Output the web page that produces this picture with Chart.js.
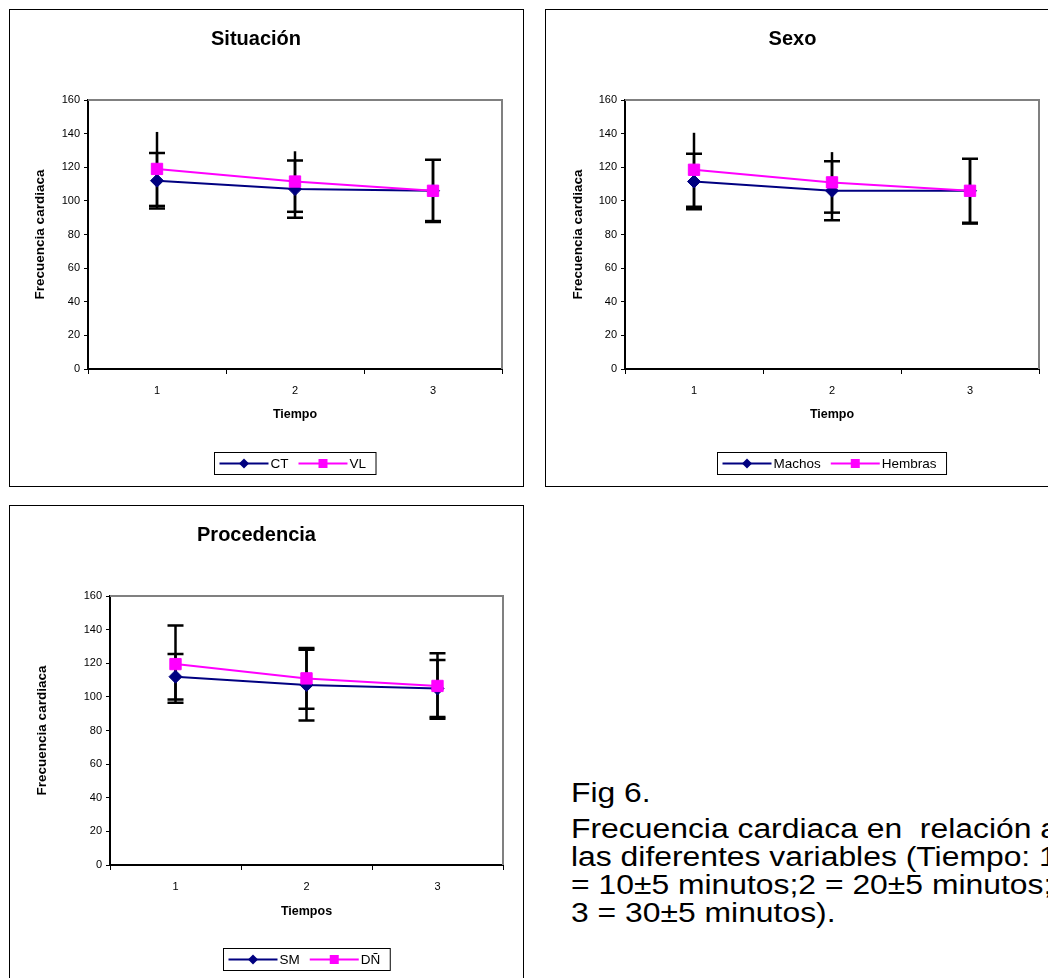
<!DOCTYPE html>
<html>
<head>
<meta charset="utf-8">
<script src="https://cdn.jsdelivr.net/npm/chart.js@4.4.0/dist/chart.umd.min.js"></script>
<style>
  html, body { margin: 0; padding: 0; background: #fff; width: 1048px; height: 978px; overflow: hidden; position: relative; }
  .panel { position: absolute; border: 1px solid #000; background: #fff; box-sizing: border-box; overflow: hidden; }
  .panel canvas { display: block; }
  .cap { position: absolute; left: 571px; font-family: "Liberation Sans", Arial, sans-serif; font-size: 27px; line-height: 30px; color: #000; white-space: pre; transform: scaleX(1.18); transform-origin: 0 0; }
</style>
</head>
<body>
<div class="panel" style="left:9px;top:9px;width:515px;height:478px"><canvas id="cSituacion" width="513" height="476"></canvas></div>
<div class="panel" style="left:545px;top:9px;width:542px;height:478px"><canvas id="cSexo" width="540" height="476"></canvas></div>
<div class="panel" style="left:9px;top:505px;width:515px;height:480px"><canvas id="cProcedencia" width="513" height="478"></canvas></div>

<div class="cap" style="top:778px">Fig 6.</div>
<div class="cap" style="top:814px">Frecuencia cardiaca en  relación a</div>
<div class="cap" style="top:842px">las diferentes variables (Tiempo: 1</div>
<div class="cap" style="top:870px">= 10±5 minutos;2 = 20±5 minutos;</div>
<div class="cap" style="top:898px">3 = 30±5 minutos).</div>

<script>
// Time points (categories)
const tiempos = ['1', '2', '3'];

// Situación: mean heart rate and standard deviation
const ctMedia = [112, 107, 106];
const ctDE = [16.5, 17, 18.5];
const vlMedia = [119, 111.5, 106];
const vlDE = [22, 18, 18];

// Sexo
const machosMedia = [111.5, 106, 106];
const machosDE = [16.5, 17.5, 19];
const hembrasMedia = [118.5, 111, 106];
const hembrasDE = [22, 18, 19.5];

// Procedencia
const smMedia = [112, 107, 105];
const smDE = [13.5, 21, 17];
const dnMedia = [119.5, 111, 106.5];
const dnDE = [23, 18, 19.5];

Chart.defaults.font.family = "'Liberation Sans', Arial, Helvetica, sans-serif";
Chart.defaults.color = '#000';

const NAVY = '#000080';
const MAGENTA = '#FF00FF';

// Vertical ±SD whiskers with caps, drawn under the series
const errorBars = {
  id: 'errorBars',
  beforeDatasetsDraw(chart) {
    const { ctx } = chart;
    const y = chart.scales.y;
    ctx.save();
    ctx.strokeStyle = '#000';
    chart.data.datasets.forEach((ds, i) => {
      const meta = chart.getDatasetMeta(i);
      meta.data.forEach((pt, j) => {
        const v = ds.data[j], e = ds.sd[j];
        const x = pt.x;
        const yHi = y.getPixelForValue(v + e);
        const yLo = y.getPixelForValue(v - e);
        ctx.lineWidth = 2.5;
        ctx.beginPath();
        ctx.moveTo(x, yHi); ctx.lineTo(x, yLo);
        ctx.stroke();
        ctx.beginPath();
        if (ds.capTop !== false) { ctx.moveTo(x - 8, yHi); ctx.lineTo(x + 8, yHi); }
        ctx.moveTo(x - 8, yLo); ctx.lineTo(x + 8, yLo);
        ctx.stroke();
      });
    });
    ctx.restore();
  }
};

// Grey top/right edges of the plot area
const plotFrame = {
  id: 'plotFrame',
  beforeDatasetsDraw(chart) {
    const { ctx, chartArea: a } = chart;
    ctx.save();
    ctx.strokeStyle = '#808080';
    ctx.lineWidth = 2;
    ctx.beginPath();
    ctx.moveTo(a.left, a.top);
    ctx.lineTo(a.right, a.top);
    ctx.lineTo(a.right, a.bottom);
    ctx.stroke();
    ctx.restore();
  }
};

// Boxed legend below the axis: line + marker + label for each series
const boxLegend = {
  id: 'boxLegend',
  afterDraw(chart) {
    const { ctx, chartArea: a } = chart;
    ctx.save();
    ctx.font = "13.5px 'Liberation Sans', Arial, sans-serif";
    const lineLen = 49, padL = 5, gapText = 2, gapItem = 10, padR = 10, h = 22;
    const items = chart.data.datasets.map(ds => ({ ds, w: ctx.measureText(ds.label).width }));
    let total = padL;
    items.forEach((it, k) => { total += lineLen + gapText + it.w + (k < items.length - 1 ? gapItem : padR); });
    const cx = (a.left + a.right) / 2;
    const left = Math.round(cx - total / 2) + 0.5;
    const top = Math.round(a.bottom + 83) + 0.5;
    ctx.fillStyle = '#fff';
    ctx.fillRect(left, top, total, h);
    ctx.strokeStyle = '#000';
    ctx.lineWidth = 1;
    ctx.strokeRect(left, top, total, h);
    const yMid = top + h / 2;
    let x = left + padL;
    items.forEach(({ ds, w }) => {
      ctx.strokeStyle = ds.borderColor;
      ctx.lineWidth = 2;
      ctx.beginPath();
      ctx.moveTo(x, yMid); ctx.lineTo(x + lineLen, yMid);
      ctx.stroke();
      const mx = x + lineLen / 2;
      ctx.fillStyle = ds.backgroundColor;
      ctx.beginPath();
      if (ds.pointStyle === 'rectRot') {
        ctx.moveTo(mx, yMid - 5); ctx.lineTo(mx + 5, yMid); ctx.lineTo(mx, yMid + 5); ctx.lineTo(mx - 5, yMid);
        ctx.closePath();
      } else {
        ctx.rect(mx - 4.5, yMid - 4.5, 9, 9);
      }
      ctx.fill();
      ctx.fillStyle = '#000';
      ctx.textBaseline = 'middle';
      ctx.textAlign = 'left';
      ctx.fillText(ds.label, x + lineLen + gapText, yMid + 0.5);
      x += lineLen + gapText + w + gapItem;
    });
    ctx.restore();
  }
};

function serie(label, media, de, color, style, order, capTop) {
  return {
    label, data: media, sd: de, capTop,
    borderColor: color, backgroundColor: color,
    borderWidth: 2, tension: 0,
    pointStyle: style,
    pointRadius: style === 'rect' ? 8 : 6.5,
    pointHoverRadius: style === 'rect' ? 8 : 6.5,
    pointBorderWidth: 1,
    order
  };
}

function grafico(id, titulo, xTitulo, series, geo) {
  new Chart(document.getElementById(id), {
    type: 'line',
    data: { labels: tiempos, datasets: series },
    options: {
      responsive: false,
      animation: false,
      devicePixelRatio: 1,
      events: [],
      layout: { padding: { top: 0, right: geo.right, bottom: 0, left: 0 } },
      plugins: {
        legend: { display: false },
        tooltip: { enabled: false },
        title: {
          display: true, text: titulo, color: '#000',
          font: { size: 20, weight: 'bold' },
          padding: { top: 17, bottom: 49 }
        }
      },
      scales: {
        x: {
          offset: true,
          ticks: { font: { size: 11 }, padding: 10, color: '#000' },
          grid: { offset: true, drawOnChartArea: false, drawTicks: true, tickLength: 5, color: '#000', lineWidth: 1 },
          border: { display: true, color: '#000', width: 2 },
          title: { display: true, text: xTitulo, color: '#000', font: { size: 12.5, weight: 'bold' }, padding: { top: 0, bottom: geo.xTitlePad } },
          afterFit(s) { s.height = geo.xHeight; }
        },
        y: {
          min: 0, max: 160,
          ticks: { stepSize: 20, font: { size: 11 }, padding: 4, color: '#000' },
          grid: { drawOnChartArea: false, drawTicks: true, tickLength: 4, color: '#000', lineWidth: 1 },
          border: { display: true, color: '#000', width: 2 },
          title: { display: true, text: 'Frecuencia cardiaca', color: '#000', font: { size: 13.5, weight: 'bold' }, padding: { top: geo.yTitlePad, bottom: 0 } },
          afterFit(s) { s.width = geo.yWidth; }
        }
      }
    },
    plugins: [plotFrame, errorBars, boxLegend]
  });
}

grafico('cSituacion', 'Situación', 'Tiempo', [
  serie('CT', ctMedia, ctDE, NAVY, 'rectRot', 1, true),
  serie('VL', vlMedia, vlDE, MAGENTA, 'rect', 0, false)
], { right: 21, yWidth: 78, xHeight: 117, xTitlePad: 64, yTitlePad: 22 });

grafico('cSexo', 'Sexo', 'Tiempo', [
  serie('Machos', machosMedia, machosDE, NAVY, 'rectRot', 1, true),
  serie('Hembras', hembrasMedia, hembrasDE, MAGENTA, 'rect', 0, false)
], { right: 47, yWidth: 79, xHeight: 117, xTitlePad: 64, yTitlePad: 24 });

grafico('cProcedencia', 'Procedencia', 'Tiempos', [
  serie('SM', smMedia, smDE, NAVY, 'rectRot', 1, true),
  serie('DÑ', dnMedia, dnDE, MAGENTA, 'rect', 0, true)
], { right: 20, yWidth: 100, xHeight: 119, xTitlePad: 65, yTitlePad: 24 });
</script>
</body>
</html>
